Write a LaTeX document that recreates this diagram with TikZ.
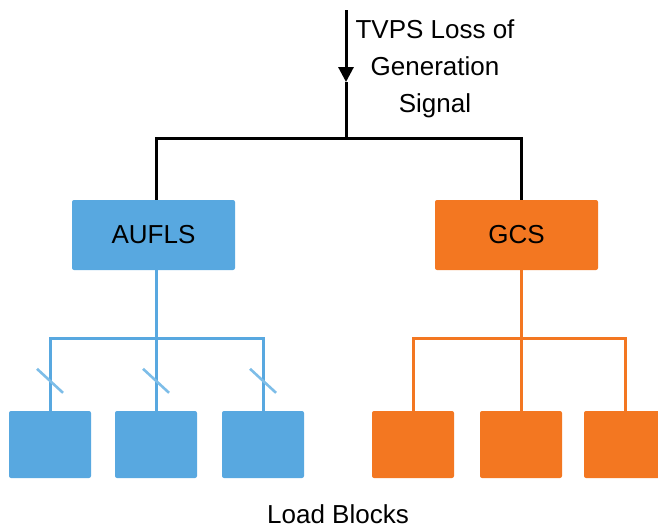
\documentclass[tikz,border=0pt]{standalone}
\usepackage{fontspec}
\setmainfont{Liberation Sans}
\usetikzlibrary{arrows.meta,calc}
\definecolor{myblue}{HTML}{58A8E0}
\definecolor{myorange}{HTML}{F37721}
\definecolor{slashblue}{HTML}{7DBDE8}
\begin{document}
\begin{tikzpicture}[x=1pt,y=-1pt,
  txt/.style={font=\fontsize{26}{37}\selectfont, inner sep=0pt},
  mainbox/.style={rectangle, rounded corners=2pt, minimum width=163pt, minimum height=70pt, inner sep=0pt, font=\fontsize{26}{30}\selectfont},
  loadbox/.style={rectangle, rounded corners=2pt, minimum width=82pt, minimum height=67pt, inner sep=0pt},
  blackline/.style={line width=3pt, black},
  blueline/.style={line width=3pt, myblue},
  orangeline/.style={line width=3pt, myorange},
  slashline/.style={line width=2.6pt, slashblue}]
\useasboundingbox (0,0) rectangle (658,528);
\clip (0,0) rectangle (658,528);

% main boxes
\node[mainbox, fill=myblue] (aufls) at (153.5,235) {AUFLS};
\node[mainbox, fill=myorange] (gcs) at (516.5,235) {GCS};

% signal
\coordinate (src) at (346,10);
\coordinate (mid) at (346,82);
\coordinate (jc) at (346,138);
\coordinate (jl) at (156,138);
\coordinate (jr) at (521,138);
\draw[blackline, -{Triangle[width=15pt,length=15pt]}] (src) -- (mid);
\draw[blackline] (mid) -- (jc);
\draw[blackline] (aufls.north -| jl) -- (jl) -- (jr) -- (gcs.north -| jr);
\node[txt, align=center] (sig) at (435,69) {TVPS Loss of\\Generation\\Signal};

% load blocks
\node[loadbox, fill=myblue] (b1) at (50,444.5) {};
\node[loadbox, fill=myblue] (b2) at (156,444.5) {};
\node[loadbox, fill=myblue] (b3) at (263,444.5) {};
\node[loadbox, fill=myorange] (o1) at (413,444.5) {};
\node[loadbox, fill=myorange] (o2) at (521,444.5) {};
\node[loadbox, fill=myorange] (o3) at (625,444.5) {};

% blue tree
\coordinate (bj) at (156,338);
\coordinate (bl) at (50,338);
\coordinate (br) at (263,338);
\draw[blueline] (aufls.south -| bj) -- (bj);
\draw[blueline] (b1.north) -- (bl) -- (br) -- (b3.north);
\draw[blueline] (bj) -- (b2.north);

% orange tree
\coordinate (oj) at (521,338);
\coordinate (ol) at (413,338);
\coordinate (or) at (625,338);
\draw[orangeline] (gcs.south -| oj) -- (oj);
\draw[orangeline] (o1.north) -- (ol) -- (or) -- (o3.north);
\draw[orangeline] (oj) -- (o2.north);

% slashes
\foreach \b in {b1,b2,b3}{
  \path (\b.north) ++(0,-30) coordinate (s\b);
  \draw[slashline] ($(s\b)+(-13,-12)$) -- ($(s\b)+(13,12)$);
}

\node[txt] (lb) at (338,514) {Load Blocks};
\end{tikzpicture}
\end{document}
